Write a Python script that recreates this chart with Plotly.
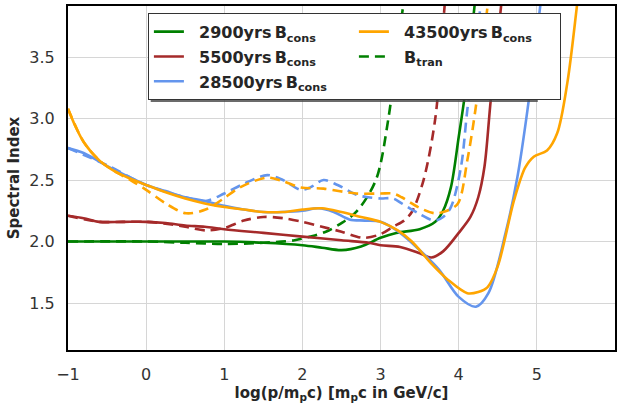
import plotly.graph_objects as go

# ---- data ----
g_x = [-1, -0.5, 0, 0.5, 1, 1.5, 2, 2.25, 2.5, 2.75, 3.0, 3.2, 3.5, 3.7, 3.8, 3.9, 4.0, 4.08, 4.2, 4.3]
g_y = [2.0, 2.0, 2.0, 2.0, 2.0, 1.99, 1.97, 1.95, 1.93, 1.96, 2.03, 2.07, 2.10, 2.16, 2.25, 2.44, 2.85, 3.2, 3.9, 4.5]

gd_x = [-1, 0, 0.5, 1, 1.5, 1.9, 2.1, 2.3, 2.5, 2.7, 2.94, 3.1, 3.2, 3.29, 3.35]
gd_y = [2.0, 2.0, 1.99, 1.98, 1.99, 2.01, 2.04, 2.08, 2.15, 2.25, 2.5, 3.0, 3.5, 3.92, 4.2]

b_x = [-1, -0.8, -0.6, -0.3, 0, 0.25, 0.5, 0.75, 1, 1.5, 2, 2.5, 2.85, 3.0, 3.25, 3.5, 3.65, 3.8, 4.0, 4.15, 4.25, 4.33, 4.41, 4.54, 4.62]
b_y = [2.21, 2.19, 2.16, 2.16, 2.16, 2.15, 2.13, 2.12, 2.10, 2.07, 2.04, 2.01, 1.99, 1.97, 1.955, 1.905, 1.87, 1.92, 2.07, 2.2, 2.36, 2.61, 3.15, 3.9, 4.5]

bd_x = [-1, -0.6, -0.3, 0, 0.3, 0.5, 0.77, 1.0, 1.25, 1.5, 1.75, 2.0, 2.25, 2.5, 2.78, 3.0, 3.16, 3.3, 3.4, 3.55, 3.7, 3.82, 3.9]
bd_y = [2.21, 2.16, 2.16, 2.16, 2.14, 2.12, 2.09, 2.11, 2.17, 2.2, 2.19, 2.16, 2.12, 2.08, 2.03, 2.06, 2.12, 2.17, 2.24, 2.5, 3.0, 3.92, 4.5]

c_x = [-1, -0.8, -0.6, -0.4, -0.2, 0, 0.25, 0.5, 0.75, 1.0, 1.25, 1.5, 1.75, 2.0, 2.2, 2.4, 2.6, 2.8, 3.0, 3.25, 3.5, 3.75, 4.0, 4.22, 4.38, 4.6, 4.75, 4.88, 5.05, 5.15]
c_y = [2.76, 2.72, 2.65, 2.58, 2.52, 2.46, 2.41, 2.36, 2.33, 2.29, 2.26, 2.24, 2.24, 2.25, 2.27, 2.24, 2.18, 2.17, 2.16, 2.07, 1.93, 1.77, 1.55, 1.47, 1.58, 2.07, 2.52, 3.07, 3.95, 4.5]

cd_x = [-1, -0.5, 0, 0.5, 0.76, 1.0, 1.25, 1.55, 1.75, 1.98, 2.1, 2.27, 2.45, 2.69, 2.84, 3.0, 3.16, 3.27, 3.48, 3.69, 3.8, 3.9, 4.03, 4.11, 4.2, 4.28, 4.33]
cd_y = [2.76, 2.62, 2.46, 2.36, 2.33, 2.39, 2.47, 2.54, 2.5, 2.42, 2.44, 2.5, 2.46, 2.38, 2.36, 2.35, 2.35, 2.31, 2.23, 2.17, 2.2, 2.28, 2.61, 3.07, 3.5, 3.92, 4.2]

o_x = [-1, -0.9, -0.8, -0.6, -0.4, -0.2, 0, 0.25, 0.5, 0.75, 1.0, 1.25, 1.5, 1.75, 2.0, 2.25, 2.5, 2.75, 3.0, 3.22, 3.4, 3.65, 3.86, 4.11, 4.25, 4.37, 4.5, 4.71, 4.85, 4.96, 5.13, 5.26, 5.39, 5.51, 5.58]
o_y = [3.08, 2.93, 2.81, 2.66, 2.57, 2.51, 2.46, 2.4, 2.35, 2.31, 2.28, 2.26, 2.24, 2.24, 2.26, 2.27, 2.24, 2.2, 2.16, 2.09, 2.0, 1.82, 1.69, 1.58, 1.59, 1.63, 1.8, 2.34, 2.6, 2.69, 2.74, 2.88, 3.29, 3.9, 4.3]

od_x = [-1, -0.8, -0.6, -0.4, -0.2, 0, 0.25, 0.51, 0.76, 0.97, 1.2, 1.55, 1.75, 1.98, 2.27, 2.69, 3.0, 3.16, 3.27, 3.48, 3.69, 3.85, 3.99, 4.11, 4.22, 4.37, 4.42]
od_y = [3.08, 2.81, 2.66, 2.57, 2.5, 2.42, 2.31, 2.23, 2.26, 2.34, 2.44, 2.52, 2.49, 2.44, 2.43, 2.39, 2.39, 2.39, 2.36, 2.28, 2.23, 2.25, 2.31, 2.66, 3.1, 3.92, 4.2]

x_ticks = [-1, 0, 1, 2, 3, 4, 5, 6]
x_labels = ["\u22121", "0", "1", "2", "3", "4", "5", "6"]
y_ticks = [1.5, 2.0, 2.5, 3.0, 3.5]
y_labels = ["1.5", "2.0", "2.5", "3.0", "3.5"]

GREEN, BROWN, BLUE, ORANGE = "#008000", "#a52a2a", "#6495ed", "#ffa500"
DASH = "10px,6px"
LW = 2.6

fig = go.Figure()


def label(age, sub):
    pre = (age + "yrs\u2009") if age else ""
    return ('<span style="font-size:16px">\u00a0\u00a0<b>' + pre + "B<sub>" + sub
            + "</sub></b></span>")


def add(x, y, color, dash, name=None, rank=None, show=False):
    fig.add_trace(go.Scatter(
        x=x, y=y, mode="lines",
        line=dict(color=color, width=LW, dash=dash, shape="spline", smoothing=0.9),
        name=name if name else "", showlegend=show,
        legendrank=rank if rank else 1000, hoverinfo="skip"))


add(g_x, g_y, GREEN, "solid", label("2900", "cons"), 1, True)
add(gd_x, gd_y, GREEN, DASH, label("", "tran"), 4, True)
add(b_x, b_y, BROWN, "solid", label("5500", "cons"), 3, True)
add(bd_x, bd_y, BROWN, DASH)
add(c_x, c_y, BLUE, "solid", label("28500", "cons"), 5, True)
add(cd_x, cd_y, BLUE, DASH)
add(o_x, o_y, ORANGE, "solid", label("43500", "cons"), 2, True)
add(od_x, od_y, ORANGE, DASH)

# plot-area pixel geometry (for legend shadow placement)
L, T, W, H = 68, 6, 549, 344


def px_x(p):
    return (p - L) / W


def px_y(p):
    return (T + H - p) / H


FONT = "DejaVu Sans"
fig.update_layout(
    width=617, height=405,
    margin=dict(l=L, r=617 - L - W, t=T, b=405 - T - H),
    paper_bgcolor="white", plot_bgcolor="white",
    font=dict(family=FONT, color="#262626"),
    xaxis=dict(range=[-1, 6], tickvals=x_ticks, ticktext=x_labels,
               showgrid=True, gridcolor="#d6d6d6", gridwidth=1.3,
               showline=True, linecolor="black", linewidth=2, mirror=True,
               ticks="outside", ticklen=9, tickcolor="rgba(0,0,0,0)",
               tickfont=dict(size=16, color="#333333"), zeroline=False,
               title=dict(text="<b>log(p/m<sub>p</sub>c) [m<sub>p</sub>c in GeV/c]</b>",
                          font=dict(size=15, color="#262626"), standoff=3)),
    yaxis=dict(range=[1.118, 3.915], tickvals=y_ticks, ticktext=y_labels,
               showgrid=True, gridcolor="#d6d6d6", gridwidth=1.3,
               showline=True, linecolor="black", linewidth=2, mirror=True,
               ticks="outside", ticklen=8, tickcolor="rgba(0,0,0,0)",
               tickfont=dict(size=16, color="#333333"), zeroline=False,
               title=dict(text="<b>Spectral Index</b>",
                          font=dict(size=15, color="#262626"), standoff=6)),
    legend=dict(orientation="h", x=px_x(148), y=px_y(13), xanchor="left", yanchor="top",
                bgcolor="white", bordercolor="#333333", borderwidth=1.2,
                font=dict(family=FONT, size=16.8, color="#262626"),
                entrywidth=160, entrywidthmode="pixels", traceorder="normal"),
    shapes=[dict(type="rect", xref="paper", yref="paper", layer="above",
                 x0=px_x(151), x1=px_x(539.5), y0=px_y(102), y1=px_y(17),
                 fillcolor="rgba(70,70,70,0.8)", line=dict(width=0))],
)

fig.write_html("out.html")
